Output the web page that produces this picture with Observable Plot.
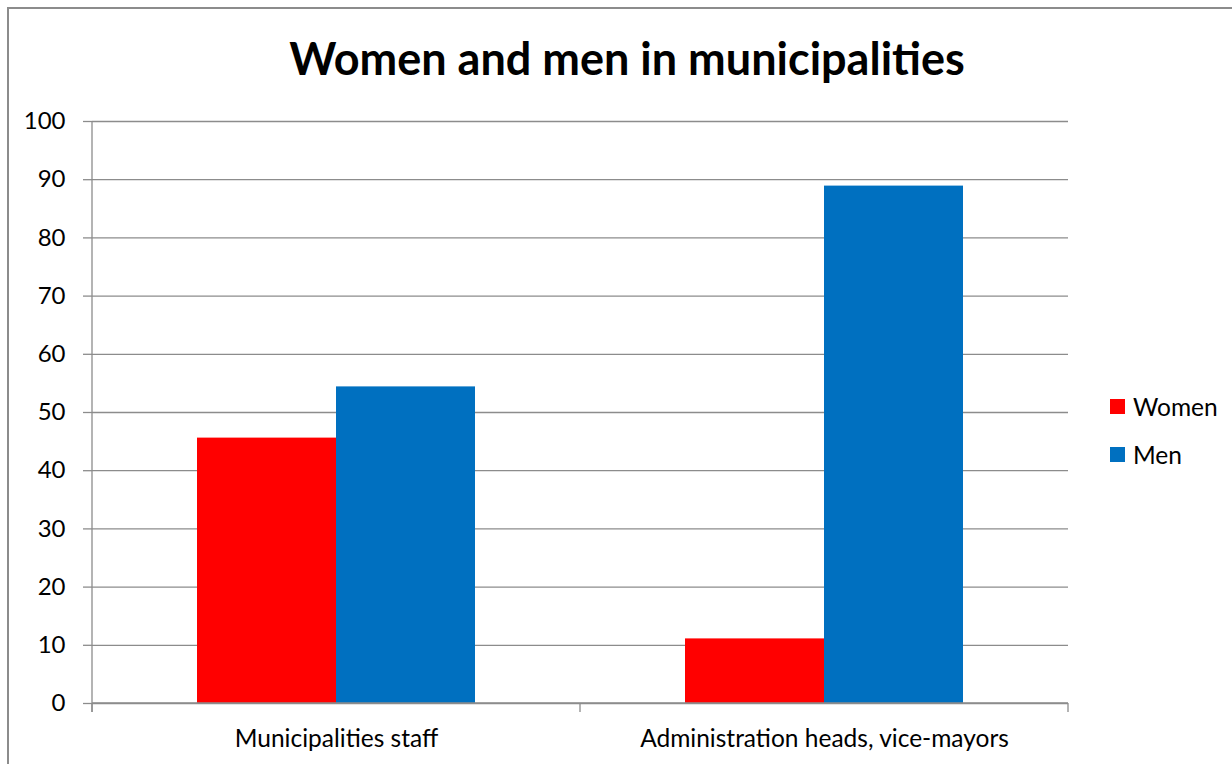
<!DOCTYPE html>
<html><head><meta charset="utf-8">
<script src="https://cdn.jsdelivr.net/npm/d3@7"></script>
<script src="https://cdn.jsdelivr.net/npm/@observablehq/plot@0.6"></script>
<style>
body{margin:0;background:#fff;}
#wrap{position:relative;width:1232px;height:764px;overflow:hidden;font-family:Lato,sans-serif;color:#000;}
#border{position:absolute;left:7px;top:7px;width:1400px;height:1000px;border:2px solid #8c8c8c;box-sizing:border-box;}
#chart{position:absolute;left:0;top:0;}
#title{position:absolute;left:627px;top:33px;transform:translateX(-50%);white-space:nowrap;font-weight:bold;font-size:45px;line-height:50px;}
#legend{position:absolute;left:1110px;top:393px;font-size:24.5px;}
.li{display:flex;align-items:center;height:26px;margin-bottom:22px;}
.sw{width:15px;height:15px;margin-right:8px;}
</style></head>
<body><div id="wrap"><div id="border"></div><div id="chart"></div><div id="title"></div><div id="legend"></div></div>
<script>
const titleText = "Women and men in municipalities";
const categories = ["Municipalities staff", "Administration heads, vice-mayors"];
const series = ["Women", "Men"];
const women = [45.6, 11.1];
const men = [54.4, 88.9];
const yTicks = [0, 10, 20, 30, 40, 50, 60, 70, 80, 90, 100];
const colors = ["#FF0000", "#0070C0"];

const data = [];
categories.forEach((c, i) => {
  data.push({category: c, series: series[0], value: women[i]});
  data.push({category: c, series: series[1], value: men[i]});
});
const grid = "#8c8c8c";

const plot = Plot.plot({
  width: 1232, height: 764,
  marginLeft: 91, marginRight: 164, marginTop: 121, marginBottom: 61,
  style: {fontFamily: "Lato, sans-serif", fontSize: "24px", color: "#000", background: "transparent"},
  fx: {domain: categories, padding: 0, label: null},
  x: {domain: series, paddingInner: 0, paddingOuter: 0.745, axis: null},
  y: {domain: [0, 100], label: null},
  color: {domain: series, range: colors},
  marks: [
    Plot.ruleY(yTicks, {stroke: grid, strokeWidth: 1.3}),
    Plot.barY(data, {fx: "category", x: "series", y: "value", fill: "series"}),
    Plot.axisY({ticks: yTicks, tickSize: 9, tickPadding: 18, stroke: grid, strokeWidth: 1.3, fill: "#000", fontSize: 24, label: null}),
    Plot.axisFx({anchor: "bottom", tickSize: 0, tickPadding: 26, fill: "#000", fontSize: 24.5, label: null})
  ]
});
document.getElementById("chart").appendChild(plot);

// axis lines and category boundary ticks from the plot's own scales
const fx = plot.scale("fx"), ys = plot.scale("y");
const bounds = categories.map(c => fx.apply(c));
bounds.push(fx.apply(categories[categories.length - 1]) + fx.bandwidth);
const y0 = ys.apply(0), y100 = ys.apply(100);
const svg = d3.select(plot);
const g = svg.append("g").attr("stroke", grid).attr("stroke-width", 1.3);
g.append("line").attr("x1", bounds[0]).attr("x2", bounds[0]).attr("y1", y100).attr("y2", y0 + 9);
g.append("line").attr("x1", bounds[0]).attr("x2", bounds[bounds.length - 1]).attr("y1", y0).attr("y2", y0);
bounds.forEach(b => g.append("line").attr("x1", b).attr("x2", b).attr("y1", y0).attr("y2", y0 + 9));

document.getElementById("title").textContent = titleText;
const leg = document.getElementById("legend");
series.forEach((s, i) => {
  const row = document.createElement("div"); row.className = "li";
  const sw = document.createElement("div"); sw.className = "sw"; sw.style.background = colors[i];
  const t = document.createElement("span"); t.textContent = s;
  row.appendChild(sw); row.appendChild(t); leg.appendChild(row);
});
</script></body></html>
